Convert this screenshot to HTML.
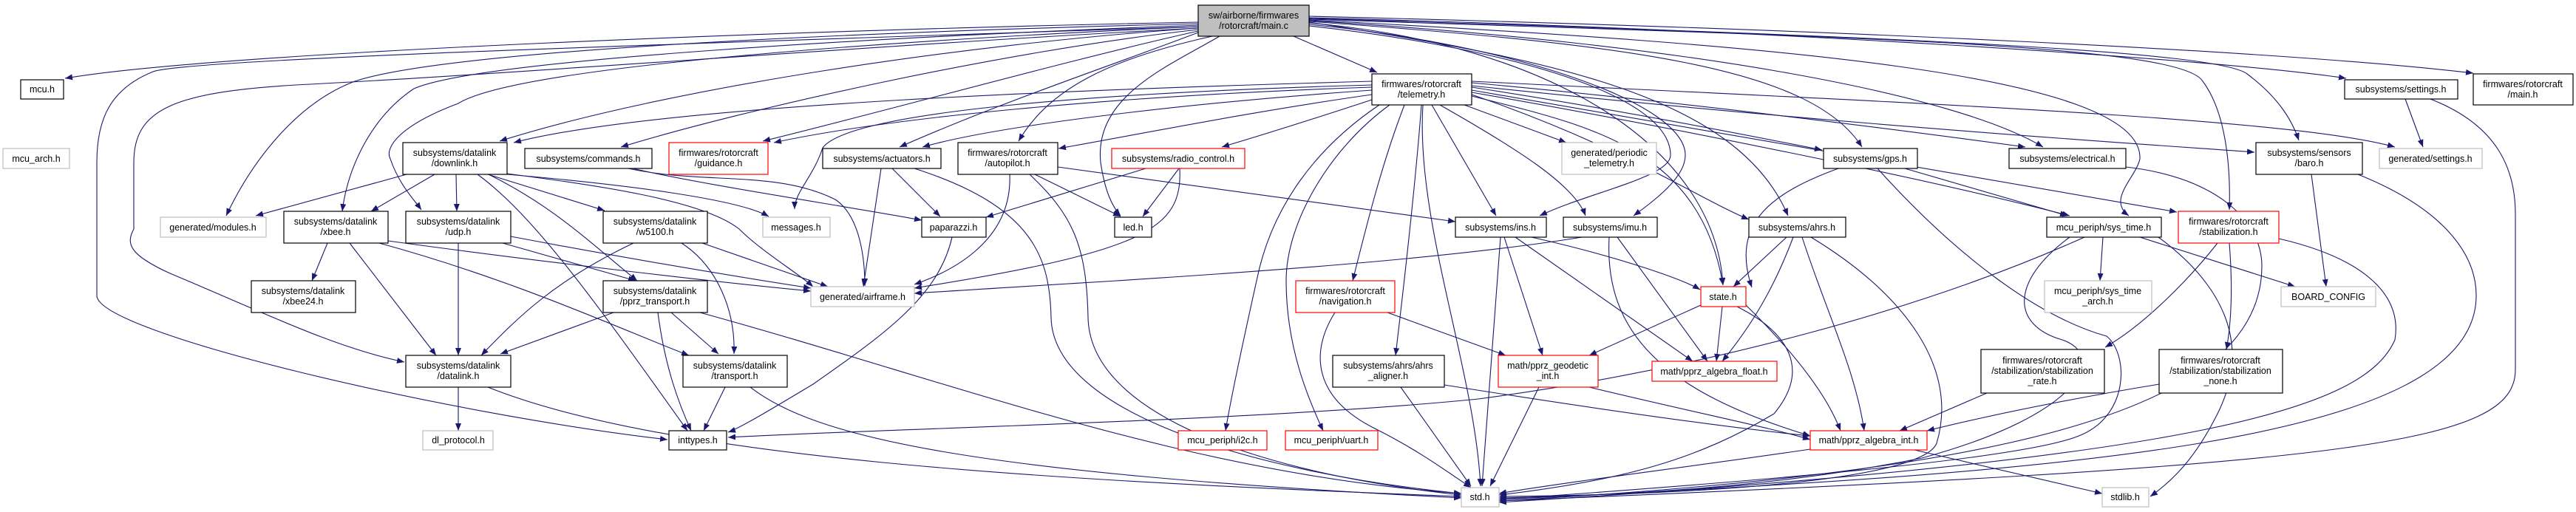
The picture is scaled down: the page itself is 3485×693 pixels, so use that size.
<!DOCTYPE html>
<html><head><meta charset="utf-8"><style>
html,body{margin:0;padding:0;background:#fff}
svg{display:block}
text{font-family:"Liberation Sans",Arial,sans-serif;font-size:12.5px;fill:#000;text-anchor:middle}
.e{fill:none;stroke:#191970;stroke-width:1.1;marker-end:url(#a)}
.n{fill:#fff;stroke:#000;stroke-width:1.2}
.r{fill:#fff;stroke:#ff0000;stroke-width:1.2}
.g{fill:#fff;stroke:#bfbfbf;stroke-width:1.2}
</style></head><body>
<svg width="3485" height="693" viewBox="0 0 3485 693" xmlns="http://www.w3.org/2000/svg">
<defs><marker id="a" viewBox="0 0 10 8" refX="10" refY="4" markerWidth="10" markerHeight="8" markerUnits="userSpaceOnUse" orient="auto"><path d="M0,0 L10,4 L0,8 z" fill="#191970"/></marker></defs>
<g>
<path class="e" d="M1621,30 C1100,40 300,70 88,106"/>
<path class="e" d="M1621,32 C1100,45 600,70 480,110 C400,140 340,220 306,292"/>
<path class="e" d="M1621,34 C1200,50 650,80 560,120 C500,160 470,230 463,286"/>
<path class="e" d="M1621,36 C1200,55 700,90 620,140 C540,170 520,200 528,215 C540,250 560,270 570,284"/>
<path class="e" d="M1621,36 C900,60 250,80 207,97 C150,120 131,160 131,220 L131,400 C131,450 600,560 903,595"/>
<path class="e" d="M1621,38 C1200,60 700,100 400,115 C230,125 181,150 181,220 L181,310 C170,330 175,345 230,370 C350,420 450,470 547,490"/>
<path class="e" d="M1621,38 C1300,60 900,120 676,191"/>
<path class="e" d="M1621,40 C1350,70 1000,150 840,199"/>
<path class="e" d="M1621,42 C1450,80 1200,150 1032,191"/>
<path class="e" d="M1621,44 C1500,90 1350,140 1217,199"/>
<path class="e" d="M1640,49 C1500,80 1420,120 1378,191"/>
<path class="e" d="M1650,49 C1580,90 1480,130 1489,220 C1495,260 1505,280 1516,292"/>
<path class="e" d="M1750,49 L1863,98"/>
<path class="e" d="M1771,35 C2000,60 2260,120 2260,210 C2260,240 2150,260 2083,292"/>
<path class="e" d="M1771,33 C2050,60 2280,140 2280,210 C2280,240 2240,270 2210,292"/>
<path class="e" d="M1771,31 C2100,60 2320,200 2331,386"/>
<path class="e" d="M1771,30 C2100,80 2350,130 2419,292"/>
<path class="e" d="M1771,29 C2200,60 2450,90 2519,199"/>
<path class="e" d="M1771,28 C2300,60 2650,130 2764,199"/>
<path class="e" d="M1771,27 C2400,60 2900,100 2895,215 C2890,240 2850,270 2880,292"/>
<path class="e" d="M1771,26 C2500,50 2950,60 2980,110 C3010,150 3018,220 3016,284"/>
<path class="e" d="M1771,25 C2600,50 3000,70 3040,100 C3080,130 3100,160 3110,190"/>
<path class="e" d="M1771,24 C2400,40 3000,80 3174,106"/>
<path class="e" d="M1771,22 C2500,40 3100,70 3346,99"/>
<path class="e" d="M1856,110 C1500,120 900,140 695,193"/>
<path class="e" d="M1856,115 C1500,125 1150,150 1113,200 C1100,240 1075,260 1075,283"/>
<path class="e" d="M1856,118 C1500,130 1200,160 1047,193"/>
<path class="e" d="M1856,122 C1600,140 1350,170 1248,199"/>
<path class="e" d="M1856,128 C1700,150 1550,180 1432,201"/>
<path class="e" d="M1856,135 C1780,160 1700,185 1653,199"/>
<path class="e" d="M1900,142 C1870,220 1850,300 1830,380"/>
<path class="e" d="M1923,142 C1915,250 1900,380 1888,481"/>
<path class="e" d="M1880,142 C1800,200 1740,300 1740,380 C1740,470 1770,540 1790,583"/>
<path class="e" d="M1866,142 C1780,200 1720,280 1700,380 C1680,470 1665,540 1658,583"/>
<path class="e" d="M1925,142 C1915,300 1995,500 2003,658"/>
<path class="e" d="M1981,142 L2119,193"/>
<path class="e" d="M1937,142 L2024,292"/>
<path class="e" d="M1948,142 C2050,200 2130,250 2145,292"/>
<path class="e" d="M1991,130 C2150,170 2300,200 2331,386"/>
<path class="e" d="M1991,118 C2200,150 2400,190 2465,203"/>
<path class="e" d="M1991,112 C2300,140 2600,180 2740,199"/>
<path class="e" d="M1991,125 C2250,170 2600,240 2800,292"/>
<path class="e" d="M1991,122 C2400,190 2800,260 2945,287"/>
<path class="e" d="M1991,116 C2500,170 2900,195 3050,206"/>
<path class="e" d="M1991,110 C2600,140 3100,160 3240,199"/>
<path class="e" d="M1991,128 C2200,200 2300,270 2366,297"/>
<path class="e" d="M550,236 L346,292"/>
<path class="e" d="M588,236 L502,286"/>
<path class="e" d="M617,236 L618,286"/>
<path class="e" d="M660,236 L818,285"/>
<path class="e" d="M661,236 C750,280 800,330 862,380"/>
<path class="e" d="M646,236 C720,290 800,400 930,583"/>
<path class="e" d="M686,236 C850,250 1000,270 1040,293"/>
<path class="e" d="M686,235 C800,250 950,270 1000,310 C1030,340 1080,370 1100,388"/>
<path class="e" d="M620,329 L620,481"/>
<path class="e" d="M680,329 L860,380"/>
<path class="e" d="M691,320 C850,350 1000,375 1097,390"/>
<path class="e" d="M443,329 L422,380"/>
<path class="e" d="M473,329 L590,481"/>
<path class="e" d="M513,329 C700,380 850,450 932,481"/>
<path class="e" d="M525,326 C700,350 950,380 1097,394"/>
<path class="e" d="M857,329 C750,380 700,430 651,481"/>
<path class="e" d="M922,329 C970,360 995,420 993,479"/>
<path class="e" d="M950,329 L1120,388"/>
<path class="e" d="M830,423 L677,479"/>
<path class="e" d="M890,423 C900,500 920,550 935,583"/>
<path class="e" d="M908,423 L972,479"/>
<path class="e" d="M947,423 C1300,520 1600,640 1977,668"/>
<path class="e" d="M620,524 L620,583"/>
<path class="e" d="M660,524 C900,620 1400,650 1977,672"/>
<path class="e" d="M981,524 L952,583"/>
<path class="e" d="M1015,524 C1100,590 1300,640 1977,674"/>
<path class="e" d="M856,228 C950,250 1150,280 1247,298"/>
<path class="e" d="M850,228 C950,250 1050,230 1130,270 C1160,290 1170,340 1170,387"/>
<path class="e" d="M1192,228 L1168,388"/>
<path class="e" d="M1207,228 L1272,293"/>
<path class="e" d="M1237,228 C1400,280 1420,350 1422,430 C1425,560 1700,640 1977,668"/>
<path class="e" d="M1366,236 C1370,330 1280,370 1237,385"/>
<path class="e" d="M1400,236 L1516,293"/>
<path class="e" d="M1393,236 C1450,290 1470,330 1472,430 C1475,560 1700,640 1977,670"/>
<path class="e" d="M1431,226 L1969,300"/>
<path class="e" d="M1550,228 L1334,294"/>
<path class="e" d="M1595,228 L1546,293"/>
<path class="e" d="M1596,228 C1600,310 1550,340 1237,390"/>
<path class="e" d="M1288,321 C1270,400 1200,450 1100,520 C1050,550 1000,580 985,585"/>
<path class="e" d="M2030,321 L2005,658"/>
<path class="e" d="M2035,321 L2087,481"/>
<path class="e" d="M2072,321 C2200,350 2280,380 2300,392"/>
<path class="e" d="M2050,321 L2290,489"/>
<path class="e" d="M2140,321 C1900,360 1500,380 1237,397"/>
<path class="e" d="M2188,321 L2310,489"/>
<path class="e" d="M2177,321 C2170,450 2250,530 2449,590"/>
<path class="e" d="M1877,423 L2037,481"/>
<path class="e" d="M1806,423 C1770,480 1780,540 1860,580 C1920,610 1960,640 1990,660"/>
<path class="e" d="M2301,413 L2150,481"/>
<path class="e" d="M2330,415 L2322,489"/>
<path class="e" d="M2362,413 C2420,470 2470,530 2490,583"/>
<path class="e" d="M2350,415 C2420,450 2450,500 2400,560 C2300,620 2200,650 2028,670"/>
<path class="e" d="M2417,321 L2345,388"/>
<path class="e" d="M2426,321 C2400,390 2370,440 2330,489"/>
<path class="e" d="M2438,321 C2470,420 2510,500 2522,583"/>
<path class="e" d="M2450,321 C2580,400 2650,500 2620,600 C2600,650 2300,670 2028,672"/>
<path class="e" d="M1895,524 L1990,658"/>
<path class="e" d="M1954,521 C2200,560 2350,580 2449,590"/>
<path class="e" d="M2082,524 L2016,658"/>
<path class="e" d="M2150,524 C2300,560 2400,580 2449,595"/>
<path class="e" d="M2449,608 C2300,630 2100,655 2028,668"/>
<path class="e" d="M2590,609 L2844,668"/>
<path class="e" d="M2487,228 C2400,260 2340,300 2370,389"/>
<path class="e" d="M2540,228 C2650,350 2760,430 2850,455 C2880,480 2880,560 2817,588 C2750,620 2400,650 2028,676"/>
<path class="e" d="M2577,228 L2797,292"/>
<path class="e" d="M2876,226 C3000,240 3060,300 3060,360 C3060,560 2700,640 2028,678"/>
<path class="e" d="M2845,321 L2841,380"/>
<path class="e" d="M2895,321 L3105,388"/>
<path class="e" d="M2820,321 C2600,420 2300,500 2000,540 C1700,570 1200,580 985,592"/>
<path class="e" d="M2920,321 C3000,380 3050,460 3000,560 C2970,620 2940,650 2909,672"/>
<path class="e" d="M2800,321 C2720,380 2720,440 2790,460 C2850,480 2820,560 2600,620 C2400,660 2200,670 2028,674"/>
<path class="e" d="M3000,329 C2960,380 2900,440 2848,470"/>
<path class="e" d="M3016,329 C3020,380 3020,430 3012,473"/>
<path class="e" d="M3083,323 C3200,350 3250,400 3240,460 C3200,550 3000,620 2028,680"/>
<path class="e" d="M2688,532 L2570,583"/>
<path class="e" d="M2921,520 C2800,540 2700,560 2607,583"/>
<path class="e" d="M3127,236 L3147,388"/>
<path class="e" d="M3190,236 C3300,280 3350,340 3350,400 C3350,600 2800,640 2028,676"/>
<path class="e" d="M3254,134 L3278,199"/>
<path class="e" d="M3288,134 C3380,170 3403,230 3403,290 L3403,500 C3403,600 3200,630 2028,678"/>
</g>
<g>
<rect class="n" x="1621" y="7" width="150" height="42" style="fill:#bfbfbf"/><text x="1696" y="25">sw/airborne/firmwares</text><text x="1696" y="39">/rotorcraft/main.c</text>
<rect class="n" x="28" y="108" width="58" height="26"/><text x="57" y="125">mcu.h</text>
<rect class="g" x="4" y="201" width="90" height="27"/><text x="49" y="219">mcu_arch.h</text>
<rect class="g" x="217" y="294" width="143" height="27"/><text x="288" y="312">generated/modules.h</text>
<rect class="n" x="384" y="286" width="141" height="43"/><text x="454" y="304">subsystems/datalink</text><text x="454" y="318">/xbee.h</text>
<rect class="n" x="340" y="380" width="141" height="43"/><text x="410" y="398">subsystems/datalink</text><text x="410" y="412">/xbee24.h</text>
<rect class="n" x="545" y="193" width="141" height="43"/><text x="615" y="211">subsystems/datalink</text><text x="615" y="225">/downlink.h</text>
<rect class="n" x="549" y="286" width="142" height="43"/><text x="620" y="304">subsystems/datalink</text><text x="620" y="318">/udp.h</text>
<rect class="n" x="549" y="481" width="142" height="43"/><text x="620" y="499">subsystems/datalink</text><text x="620" y="513">/datalink.h</text>
<rect class="g" x="572" y="583" width="95" height="26"/><text x="620" y="600">dl_protocol.h</text>
<rect class="n" x="710" y="201" width="172" height="27"/><text x="796" y="219">subsystems/commands.h</text>
<rect class="r" x="905" y="193" width="134" height="43"/><text x="972" y="211">firmwares/rotorcraft</text><text x="972" y="225">/guidance.h</text>
<rect class="n" x="816" y="286" width="141" height="43"/><text x="886" y="304">subsystems/datalink</text><text x="886" y="318">/w5100.h</text>
<rect class="g" x="1032" y="294" width="91" height="27"/><text x="1077" y="312">messages.h</text>
<rect class="n" x="816" y="380" width="141" height="43"/><text x="886" y="398">subsystems/datalink</text><text x="886" y="412">/pprz_transport.h</text>
<rect class="g" x="1097" y="388" width="140" height="27"/><text x="1167" y="406">generated/airframe.h</text>
<rect class="n" x="924" y="481" width="141" height="43"/><text x="994" y="499">subsystems/datalink</text><text x="994" y="513">/transport.h</text>
<rect class="n" x="905" y="583" width="78" height="26"/><text x="944" y="600">inttypes.h</text>
<rect class="n" x="1113" y="201" width="160" height="27"/><text x="1193" y="219">subsystems/actuators.h</text>
<rect class="n" x="1296" y="193" width="135" height="43"/><text x="1363" y="211">firmwares/rotorcraft</text><text x="1363" y="225">/autopilot.h</text>
<rect class="r" x="1504" y="201" width="180" height="27"/><text x="1594" y="219">subsystems/radio_control.h</text>
<rect class="n" x="1247" y="294" width="87" height="27"/><text x="1290" y="312">paparazzi.h</text>
<rect class="n" x="1508" y="294" width="50" height="27"/><text x="1533" y="312">led.h</text>
<rect class="r" x="1594" y="583" width="120" height="26"/><text x="1654" y="600">mcu_periph/i2c.h</text>
<rect class="n" x="1856" y="100" width="135" height="42"/><text x="1923" y="118">firmwares/rotorcraft</text><text x="1923" y="132">/telemetry.h</text>
<rect class="g" x="2113" y="193" width="128" height="43"/><text x="2177" y="211">generated/periodic</text><text x="2177" y="225">_telemetry.h</text>
<rect class="n" x="1969" y="294" width="123" height="27"/><text x="2030" y="312">subsystems/ins.h</text>
<rect class="n" x="2115" y="294" width="127" height="27"/><text x="2178" y="312">subsystems/imu.h</text>
<rect class="r" x="1753" y="380" width="134" height="43"/><text x="1820" y="398">firmwares/rotorcraft</text><text x="1820" y="412">/navigation.h</text>
<rect class="r" x="2301" y="388" width="61" height="27"/><text x="2331" y="406">state.h</text>
<rect class="n" x="1803" y="481" width="151" height="43"/><text x="1878" y="499">subsystems/ahrs/ahrs</text><text x="1878" y="513">_aligner.h</text>
<rect class="r" x="2027" y="481" width="135" height="43"/><text x="2094" y="499">math/pprz_geodetic</text><text x="2094" y="513">_int.h</text>
<rect class="r" x="2235" y="489" width="169" height="27"/><text x="2319" y="507">math/pprz_algebra_float.h</text>
<rect class="r" x="1739" y="583" width="125" height="26"/><text x="1801" y="600">mcu_periph/uart.h</text>
<rect class="g" x="1977" y="660" width="51" height="26"/><text x="2002" y="677">std.h</text>
<rect class="n" x="2467" y="201" width="127" height="27"/><text x="2530" y="219">subsystems/gps.h</text>
<rect class="n" x="2718" y="201" width="158" height="27"/><text x="2797" y="219">subsystems/electrical.h</text>
<rect class="n" x="2366" y="294" width="131" height="27"/><text x="2431" y="312">subsystems/ahrs.h</text>
<rect class="n" x="2769" y="294" width="155" height="27"/><text x="2846" y="312">mcu_periph/sys_time.h</text>
<rect class="g" x="2766" y="380" width="145" height="43"/><text x="2838" y="398">mcu_periph/sys_time</text><text x="2838" y="412">_arch.h</text>
<rect class="n" x="2680" y="473" width="167" height="59"/><text x="2763" y="492">firmwares/rotorcraft</text><text x="2763" y="506">/stabilization/stabilization</text><text x="2763" y="520">_rate.h</text>
<rect class="r" x="2449" y="583" width="158" height="26"/><text x="2528" y="600">math/pprz_algebra_int.h</text>
<rect class="g" x="2844" y="660" width="63" height="26"/><text x="2875" y="677">stdlib.h</text>
<rect class="n" x="3172" y="108" width="153" height="26"/><text x="3248" y="125">subsystems/settings.h</text>
<rect class="n" x="3346" y="100" width="135" height="42"/><text x="3413" y="118">firmwares/rotorcraft</text><text x="3413" y="132">/main.h</text>
<rect class="n" x="3052" y="193" width="144" height="43"/><text x="3124" y="211">subsystems/sensors</text><text x="3124" y="225">/baro.h</text>
<rect class="g" x="3219" y="201" width="139" height="27"/><text x="3288" y="219">generated/settings.h</text>
<rect class="r" x="2947" y="286" width="136" height="43"/><text x="3015" y="304">firmwares/rotorcraft</text><text x="3015" y="318">/stabilization.h</text>
<rect class="g" x="3086" y="388" width="128" height="27"/><text x="3150" y="406">BOARD_CONFIG</text>
<rect class="n" x="2921" y="473" width="167" height="59"/><text x="3004" y="492">firmwares/rotorcraft</text><text x="3004" y="506">/stabilization/stabilization</text><text x="3004" y="520">_none.h</text>
</g>
</svg>
</body></html>
